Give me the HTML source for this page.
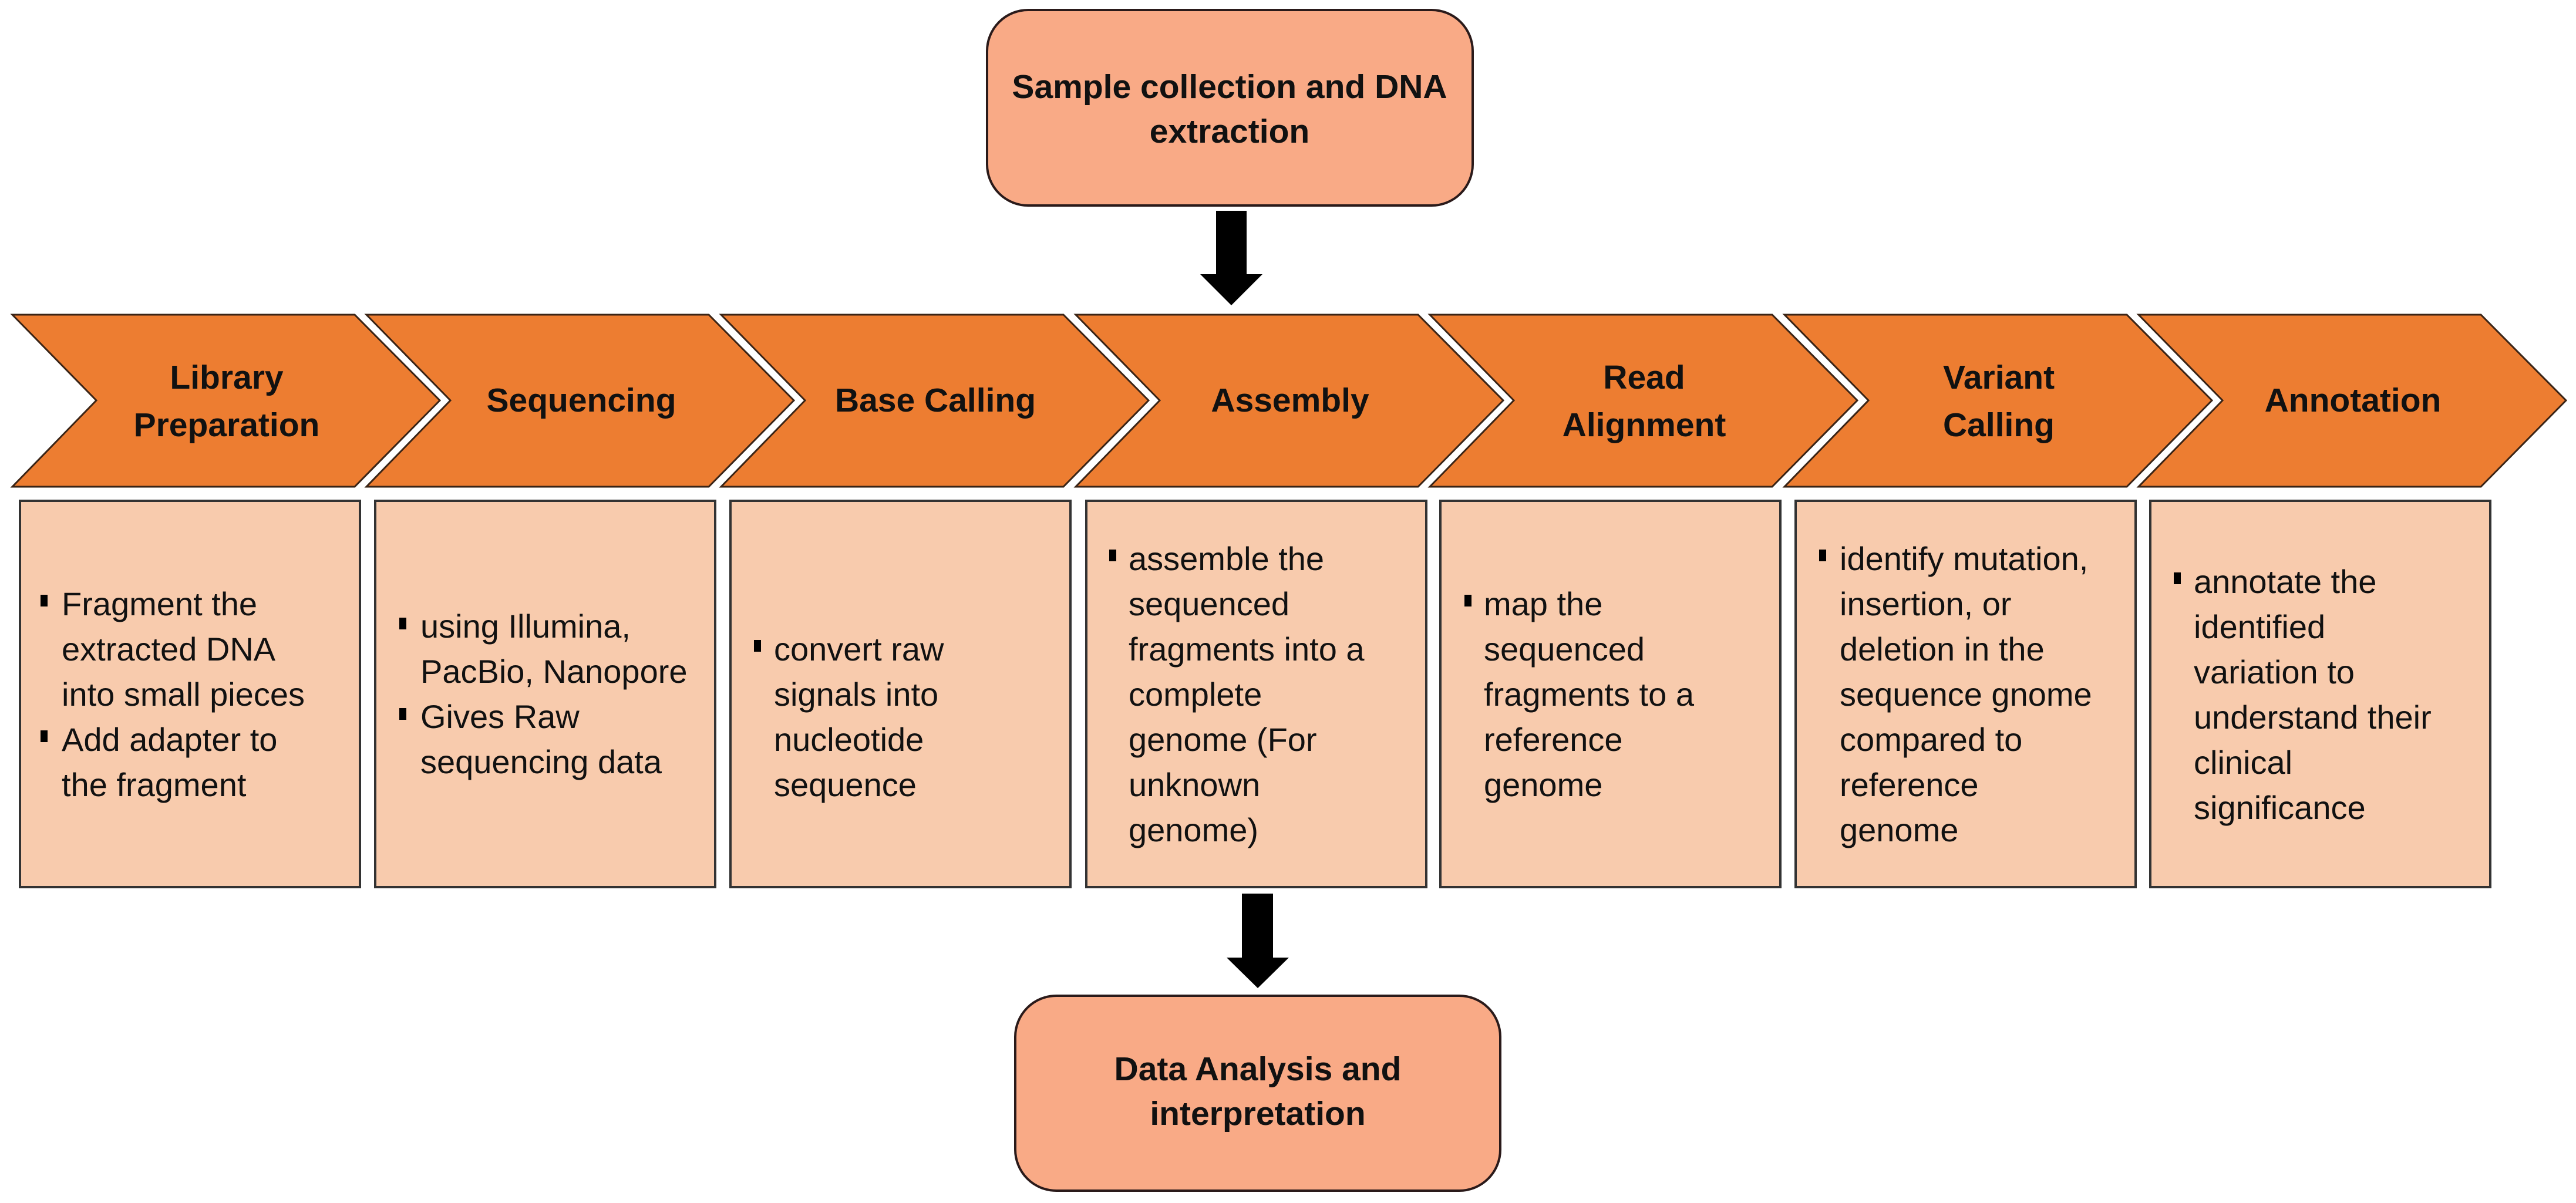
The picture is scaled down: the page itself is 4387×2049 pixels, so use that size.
<!DOCTYPE html>
<html><head><meta charset="utf-8"><style>
html,body{margin:0;padding:0;background:#fff;width:4387px;height:2049px;overflow:hidden}
svg{display:block}
.h{font-family:"Liberation Sans",sans-serif;font-weight:bold;font-size:57px;fill:#111;text-anchor:middle;dominant-baseline:central}
.b{font-family:"Liberation Sans",sans-serif;font-size:56px;fill:#111;dominant-baseline:central}
</style></head><body>
<svg width="4387" height="2049" viewBox="0 0 4387 2049" xmlns="http://www.w3.org/2000/svg">
<rect x="1681" y="17" width="827" height="333" rx="70" fill="#F9AA86" stroke="#2a1a1a" stroke-width="4"/>
<text class="h" x="2094" y="148">Sample collection and DNA</text>
<text class="h" x="2094" y="224">extraction</text>
<polygon points="2071,359 2123,359 2123,467 2150,467 2097,520 2044,467 2071,467" fill="#000"/>
<g fill="#ED7D31" stroke="#3a2416" stroke-width="3" stroke-linejoin="miter">
<polygon points="21,536 604,536 749,682 604,829 21,829 164,682"/>
<polygon points="624,536 1207,536 1352,682 1207,829 624,829 767,682"/>
<polygon points="1228,536 1811,536 1956,682 1811,829 1228,829 1371,682"/>
<polygon points="1832,536 2415,536 2560,682 2415,829 1832,829 1975,682"/>
<polygon points="2435,536 3018,536 3163,682 3018,829 2435,829 2578,682"/>
<polygon points="3039,536 3622,536 3767,682 3622,829 3039,829 3182,682"/>
<polygon points="3642,536 4225,536 4370,682 4225,829 3642,829 3785,682"/>
</g>
<text class="h" x="386" y="643">Library</text><text class="h" x="386" y="724">Preparation</text>
<text class="h" x="990" y="682">Sequencing</text>
<text class="h" x="1593" y="682">Base Calling</text>
<text class="h" x="2197" y="682">Assembly</text>
<text class="h" x="2800" y="643">Read</text><text class="h" x="2800" y="724">Alignment</text>
<text class="h" x="3404" y="643">Variant</text><text class="h" x="3404" y="724">Calling</text>
<text class="h" x="4007" y="682">Annotation</text>
<g fill="#F8CBAD" stroke="#333" stroke-width="4">
<rect x="34" y="853" width="579" height="658"/>
<rect x="639" y="853" width="579" height="658"/>
<rect x="1244" y="853" width="579" height="658"/>
<rect x="1850" y="853" width="579" height="658"/>
<rect x="2453" y="853" width="579" height="658"/>
<rect x="3058" y="853" width="579" height="658"/>
<rect x="3662" y="853" width="579" height="658"/>
</g>
<g fill="#000">
<rect x="69" y="1013" width="12" height="20"/><rect x="69" y="1244" width="12" height="20"/>
<rect x="680" y="1052" width="12" height="20"/><rect x="680" y="1206" width="12" height="20"/>
<rect x="1284" y="1090" width="12" height="20"/>
<rect x="1889" y="936" width="12" height="20"/>
<rect x="2494" y="1013" width="12" height="20"/>
<rect x="3098" y="936" width="12" height="20"/>
<rect x="3702" y="975" width="12" height="20"/>
</g>
<text class="b"><tspan x="105" y="1028">Fragment the</tspan><tspan x="105" y="1105">extracted DNA</tspan><tspan x="105" y="1182">into small pieces</tspan><tspan x="105" y="1259">Add adapter to</tspan><tspan x="105" y="1336">the fragment</tspan></text>
<text class="b"><tspan x="716" y="1066">using Illumina,</tspan><tspan x="716" y="1143">PacBio, Nanopore</tspan><tspan x="716" y="1220">Gives Raw</tspan><tspan x="716" y="1297">sequencing data</tspan></text>
<text class="b"><tspan x="1318" y="1105">convert raw</tspan><tspan x="1318" y="1182">signals into</tspan><tspan x="1318" y="1259">nucleotide</tspan><tspan x="1318" y="1336">sequence</tspan></text>
<text class="b"><tspan x="1922" y="951">assemble the</tspan><tspan x="1922" y="1028">sequenced</tspan><tspan x="1922" y="1105">fragments into a</tspan><tspan x="1922" y="1182">complete</tspan><tspan x="1922" y="1259">genome (For</tspan><tspan x="1922" y="1336">unknown</tspan><tspan x="1922" y="1413">genome)</tspan></text>
<text class="b"><tspan x="2527" y="1028">map the</tspan><tspan x="2527" y="1105">sequenced</tspan><tspan x="2527" y="1182">fragments to a</tspan><tspan x="2527" y="1259">reference</tspan><tspan x="2527" y="1336">genome</tspan></text>
<text class="b"><tspan x="3133" y="951">identify mutation,</tspan><tspan x="3133" y="1028">insertion, or</tspan><tspan x="3133" y="1105">deletion in the</tspan><tspan x="3133" y="1182">sequence gnome</tspan><tspan x="3133" y="1259">compared to</tspan><tspan x="3133" y="1336">reference</tspan><tspan x="3133" y="1413">genome</tspan></text>
<text class="b"><tspan x="3736" y="990">annotate the</tspan><tspan x="3736" y="1067">identified</tspan><tspan x="3736" y="1144">variation to</tspan><tspan x="3736" y="1221">understand their</tspan><tspan x="3736" y="1298">clinical</tspan><tspan x="3736" y="1375">significance</tspan></text>
<polygon points="2115,1522 2168,1522 2168,1631 2195,1631 2142,1683 2089,1631 2115,1631" fill="#000"/>
<rect x="1729" y="1696" width="826" height="332" rx="70" fill="#F9AA86" stroke="#2a1a1a" stroke-width="4"/>
<text class="h" x="2142" y="1821">Data Analysis and</text>
<text class="h" x="2142" y="1897">interpretation</text>
</svg>
</body></html>
